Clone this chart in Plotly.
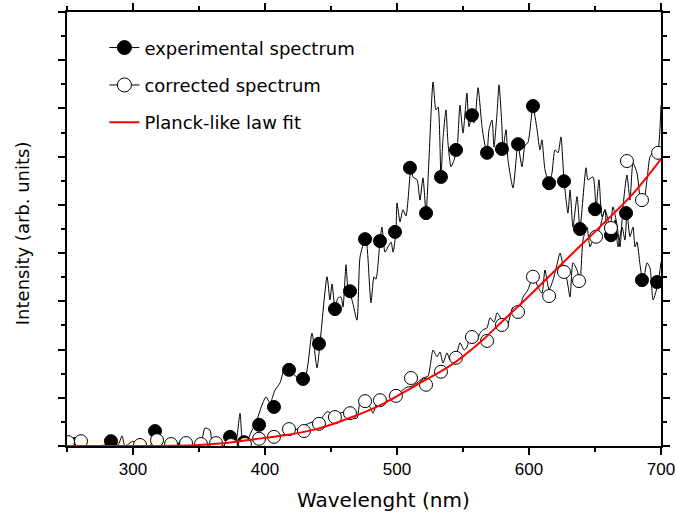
import plotly.graph_objects as go

# Experimental spectrum (dense trace)
exp_wl = [250, 256.1, 261.4, 271.2, 278.8, 283.3, 288.6, 291.7, 293.9, 300, 303, 312.9, 316.7, 320.5,
          335.6, 340.2, 343.2, 350.8, 354.5, 358.3, 360.6, 369.7, 373.5, 377.3, 381.1, 383.3, 386.4,
          390.2, 393.2, 397.7, 400.8, 403.8, 407.6, 411.4, 415.2, 418.2, 424.2, 430.3, 435.6, 439.4,
          441.7, 447.0, 449.2, 450.8, 453.0, 455.3, 457.6, 459.1, 461.4, 462.9, 465.9, 469.7, 472.0,
          475.8, 477.3, 480.3, 482.6, 484.1, 487.1, 488.6, 490.9, 493.2, 495.5, 497.0, 499.2, 500.0,
          502.3, 504.5, 506.8, 510.6, 512.1, 515.2, 517.4, 519.7, 522.0, 524.2, 527.3, 529.5, 531.1,
          533.3, 534.8, 537.1, 538.6, 540.9, 543.2, 545.5, 547.7, 550.0, 553.0, 554.5, 556.8, 558.3,
          559.8, 561.4, 564.4, 565.9, 568.2, 569.7, 572.0, 573.5, 575.8, 577.3, 579.5, 580.3, 582.6,
          584.1, 587.9, 590.9, 591.7, 594.7, 597.0, 599.2, 603.0, 606.1, 608.3, 609.8, 612.1, 615.2,
          617.4, 619.7, 622.0, 624.2, 626.5, 629.5, 631.1, 633.3, 636.4, 638.6, 643.2, 644.7, 648.5,
          650.8, 653.0, 655.3, 657.6, 659.1, 662.1, 665.2, 667.4, 670.5, 672.7, 674.2, 676.5, 678.8,
          680.3, 681.8, 684.1, 686.4, 689.4, 691.7, 694.0, 697.8, 700]
exp_int = [0.06, 0.04, 0, 0, 0.02, 0.06, 0.02, 0.21, 0, 0.1, 0, 0, 0.27, 0,
           0, 0.1, 0, 0, 0.37, 0.33, 0, 0, 0.12, 0, 0.68, 0, 0.1,
           0.33, 0.48, 0.85, 1.02, 0.89, 1.16, 1.31, 1.64, 1.58, 1.43, 1.43, 2.34, 1.62,
           2.14, 3.51, 3.03, 3.36, 2.88, 3.07, 3.09, 2.88, 3.76, 3.24, 3.03, 2.61, 3.92,
           4.29, 4.13, 2.97, 3.51, 3.46, 4.25, 4.54, 4.02, 4.13, 4.23, 4.02, 4.44, 5.04,
           4.65, 4.90, 4.77, 5.77, 5.58, 5.52, 5.10, 5.56, 4.83, 5.93, 7.55, 6.97, 7.03,
           5.58, 6.35, 6.97, 6.29, 5.79, 5.93, 6.16, 7.07, 6.49, 7.32, 6.62, 6.87, 6.70,
           6.97, 7.43, 6.62, 6.35, 6.08, 6.56, 6.76, 6.20, 6.91, 7.49, 6.62, 6.16, 6.56,
           5.93, 5.35, 6.14, 6.24, 5.79, 6.24, 6.29, 7.03, 6.56, 6.14, 6.35, 5.73, 5.46,
           5.66, 6.14, 6.08, 6.41, 5.52, 4.83, 5.31, 4.54, 5.17, 4.52, 5.77, 5.52, 5.58,
           4.94, 5.52, 4.75, 4.90, 4.48, 4.38, 4.69, 4.13, 4.54, 4.27, 4.83, 4.34, 4.54,
           4.13, 4.23, 3.76, 3.40, 3.80, 3.69, 3.03, 3.38, 3.82]

# Experimental spectrum (sampled points shown as filled circles)
exp_pt_wl = [256.1, 283.3, 316.7, 339.4, 373.5, 384.1, 395.5, 406.8, 418.2, 428.8, 440.9, 453.0,
             464.4, 475.8, 487.1, 498.5, 509.8, 522.0, 533.3, 544.7, 556.8, 568.2, 579.5, 591.7,
             603.0, 615.2, 626.5, 638.6, 650.0, 662.1, 673.5, 685.6, 697.0]
exp_pt_int = [0.04, 0.10, 0.31, 0.02, 0.19, 0.08, 0.44, 0.81, 1.58, 1.39, 2.12, 2.84,
              3.21, 4.29, 4.25, 4.44, 5.77, 4.83, 5.58, 6.14, 6.86, 6.08, 6.16, 6.26,
              7.05, 5.45, 5.49, 4.50, 4.91, 4.37, 4.83, 3.44, 3.40]

# Corrected spectrum (dense trace)
cor_wl = [250, 290, 350.8, 381.1, 388.6, 400, 413.6, 422.7, 434.1, 441.7, 447.0, 453.0, 462.1,
          465.9, 469.7, 472.0, 475.8, 479.5, 481.8, 484.8, 489.4, 494.7, 499.2, 502.3, 507.6,
          511.4, 515.2, 519.7, 523.5, 527.3, 530.3, 532.6, 534.8, 537.9, 540.2, 542.4, 545.5,
          547.7, 550.8, 553.0, 555.3, 557.6, 560.6, 562.9, 565.2, 568.2, 570.5, 573.5, 575.8,
          578.0, 581.8, 583.3, 587.9, 591.7, 595.5, 599.2, 603.0, 606.8, 609.8, 612.1, 615.2,
          618.2, 621.2, 623.5, 626.5, 628.8, 631.1, 633.3, 636.4, 638.6, 640.9, 643.9, 646.2,
          648.5, 650.8, 653.8, 657.6, 661.4, 663.6, 666.7, 668.9, 671.2, 674.2, 676.5, 678.8,
          681.8, 684.1, 686.4, 689.4, 691.7, 694.0, 697.0, 700]
cor_int = [0.02, 0, 0, 0.02, 0.12, 0.17, 0.23, 0.33, 0.48, 0.54, 0.71, 0.66, 0.71,
           0.58, 0.58, 0.89, 0.85, 0.81, 0.68, 0.89, 0.91, 0.95, 1.06, 1.12, 1.22,
           1.24, 1.31, 1.41, 1.45, 1.99, 1.85, 1.95, 1.72, 1.93, 1.78, 1.85, 1.95,
           2.14, 1.99, 2.05, 2.30, 2.16, 2.20, 2.34, 2.41, 2.45, 2.66, 2.57, 2.76,
           2.68, 2.41, 2.45, 2.88, 2.78, 3.09, 3.24, 3.51, 3.30, 3.17, 3.65, 3.24,
           3.44, 3.76, 4.00, 3.65, 3.44, 3.09, 3.80, 3.65, 3.40, 4.27, 4.54, 4.13,
           4.27, 4.34, 4.54, 4.90, 4.54, 4.96, 4.58, 4.13, 4.96, 5.62, 5.10, 5.87,
           5.66, 5.17, 4.96, 5.52, 6.00, 6.08, 6.04, 7.07]

# Corrected spectrum (sampled points shown as open circles)
cor_pt_wl = [250.8, 260.6, 305.3, 318.2, 328.8, 340.2, 351.5, 362.9, 374.2, 384.8, 395.5, 406.8,
             418.2, 429.5, 440.9, 453.0, 464.4, 475.8, 487.1, 499.2, 510.6, 522.0, 533.3, 544.7,
             556.8, 568.2, 579.5, 591.7, 603.0, 615.2, 626.5, 637.9, 650.8, 662.1, 674.2, 685.6,
             697.8]
cor_pt_int = [0.08, 0.10, 0.02, 0.12, 0.04, 0.06, 0.04, 0.06, 0.02, 0.04, 0.15, 0.19,
              0.35, 0.31, 0.46, 0.60, 0.68, 0.93, 0.95, 1.04, 1.41, 1.27, 1.54, 1.83,
              2.26, 2.18, 2.51, 2.78, 3.51, 3.11, 3.61, 3.42, 4.34, 4.52, 5.91, 5.10,
              6.08]

# Planck-like law fit
fit_wl = [250, 300, 330, 350, 370, 389, 414, 439, 464, 489, 515, 540, 565, 578, 603, 629, 654,
          679, 700]
fit_int = [0.0, 0.0, 0.005, 0.02, 0.06, 0.13, 0.22, 0.35, 0.58, 0.87, 1.27, 1.66, 2.20, 2.54,
           3.19, 3.89, 4.55, 5.24, 5.95]

legend_names = ["experimental spectrum", "corrected spectrum", "Planck-like law fit"]

fig = go.Figure()

line_style = dict(color="black", width=1, shape="spline", smoothing=0.6)
fig.add_trace(go.Scatter(x=exp_wl, y=exp_int, mode="lines", line=line_style, showlegend=False))
fig.add_trace(go.Scatter(x=cor_wl, y=cor_int, mode="lines", line=line_style, showlegend=False))
fig.add_trace(go.Scatter(x=exp_pt_wl, y=exp_pt_int, mode="markers", showlegend=False,
                         marker=dict(symbol="circle", size=13, color="black",
                                     line=dict(color="black", width=1))))
fig.add_trace(go.Scatter(x=cor_pt_wl, y=cor_pt_int, mode="markers", showlegend=False,
                         marker=dict(symbol="circle", size=13, color="white",
                                     line=dict(color="black", width=1))))
fig.add_trace(go.Scatter(x=fit_wl, y=fit_int, mode="lines", showlegend=False,
                         line=dict(color="#ff0000", width=2, shape="spline", smoothing=1)))

# Legend keys
fig.add_trace(go.Scatter(x=[None], y=[None], mode="lines+markers", name=legend_names[0],
                         legendgroup="a", line=dict(color="black", width=1),
                         marker=dict(symbol="circle", size=14, color="black",
                                     line=dict(color="black", width=1))))
fig.add_trace(go.Scatter(x=[None], y=[None], mode="lines+markers", name=legend_names[1],
                         legendgroup="b", line=dict(color="black", width=1),
                         marker=dict(symbol="circle", size=14, color="white",
                                     line=dict(color="black", width=1))))
fig.add_trace(go.Scatter(x=[None], y=[None], mode="lines", name=legend_names[2],
                         legendgroup="c", line=dict(color="#ff0000", width=2)))

axis_common = dict(showline=True, linecolor="black", linewidth=2, mirror="allticks",
                   ticks="outside", tickcolor="black", tickwidth=1.5, showgrid=False,
                   zeroline=False, automargin=False)

fig.update_xaxes(range=[250, 700], dtick=100, tick0=0, ticklen=7,
                 minor=dict(dtick=50, ticklen=4, tickcolor="black", tickwidth=1.5, ticks="outside"),
                 tickfont=dict(family="Liberation Sans", size=17, color="black"),
                 **axis_common)
fig.update_yaxes(range=[0, 9], dtick=1, tick0=0, ticklen=7, showticklabels=False,
                 minor=dict(dtick=0.5, ticklen=4, tickcolor="black", tickwidth=1.5, ticks="outside"),
                 **axis_common)

title_font = dict(family="DejaVu Sans", size=20, color="black")
fig.add_annotation(text="Wavelenght (nm)", xref="paper", yref="paper", x=0.532, y=-0.124,
                   xanchor="center", yanchor="middle", showarrow=False, font=title_font)
fig.add_annotation(text="Intensity (arb. units)", xref="paper", yref="paper", x=-0.076, y=0.49,
                   xanchor="center", yanchor="middle", showarrow=False, textangle=-90,
                   font=dict(family="DejaVu Sans", size=18, color="black"))

fig.update_layout(
    width=676, height=516,
    margin=dict(l=67, r=15, t=12, b=70),
    paper_bgcolor="white", plot_bgcolor="white",
    legend=dict(x=0.063, y=0.96, xanchor="left", yanchor="top",
                bgcolor="rgba(0,0,0,0)", tracegroupgap=11,
                font=dict(family="DejaVu Sans", size=18, color="black")),
)

fig.write_html("out.html")
